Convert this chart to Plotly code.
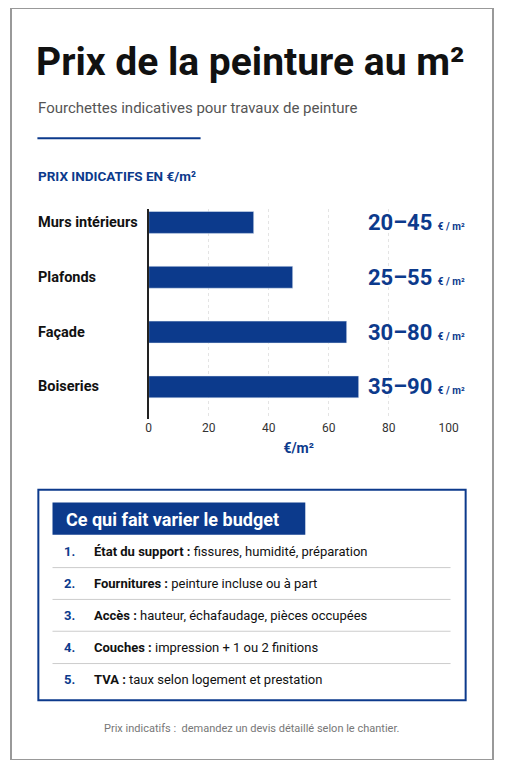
import plotly.graph_objects as go

categories = ["Murs intérieurs", "Plafonds", "Façade", "Boiseries"]
bar_values = [35, 48, 66, 70]
ranges = ["20–45", "25–55", "30–80", "35–90"]
tick_vals = [0, 20, 40, 60, 80, 100]
factor_titles = ["État du support :", "Fournitures :", "Accès :", "Couches :", "TVA :"]
factor_texts = ["fissures, humidité, préparation", "peinture incluse ou à part",
                "hauteur, échafaudage, pièces occupées", "impression + 1 ou 2 finitions",
                "taux selon logement et prestation"]

W, H = 511, 768
FW, FH = 495, 752
NAVY = "#0c3a8c"
COND = "Roboto, sans-serif"
def px(x): return x / W
def py(y): return 1 - y / H

fig = go.Figure(go.Bar(x=bar_values, y=list(range(len(categories))), orientation="h",
                       marker_color=NAVY, width=0.4, hoverinfo="skip"))

ann, shapes = [], []
def text(x, y, s, size, color="#111", anchor="left", family=COND):
    ann.append(dict(x=px(x), y=py(y), xref="paper", yref="paper", text=s, showarrow=False,
                    xanchor=anchor, yanchor="middle", font=dict(size=size, color=color, family=family)))

text(24, 55, "<b>Prix de la peinture au m²</b>", 39)
text(26, 102, "Fourchettes indicatives pour travaux de peinture", 15, "#555")
shapes.append(dict(type="line", xref="paper", yref="paper", x0=px(28), x1=px(201), y0=py(133), y1=py(133),
                   line=dict(color=NAVY, width=2)))
text(26, 172, "<b>PRIX INDICATIFS EN €/m²</b>", 13.5, NAVY)

for i, c in enumerate(categories):
    ann.append(dict(x=px(26), y=i, xref="paper", yref="y", text="<b>" + c + "</b>",
                    showarrow=False, xanchor="left", yanchor="middle", font=dict(size=14.5, color="#111", family=COND)))
    ann.append(dict(x=px(376), y=i, xref="paper", yref="y",
                    text="<b>" + ranges[i] + "</b> <span style='font-size:10px'><b>€ / m²</b></span>",
                    showarrow=False, xanchor="left", yanchor="middle", font=dict(size=22, color=NAVY, family=COND)))

shapes.append(dict(type="rect", xref="paper", yref="paper", x0=px(29), x1=px(482), y0=py(707), y1=py(492),
                   line=dict(color=NAVY, width=2)))
shapes.append(dict(type="rect", xref="paper", yref="paper", x0=px(44), x1=px(312), y0=py(538), y1=py(505),
                   line=dict(width=0), fillcolor=NAVY))
text(56, 522, "<b>Ce qui fait varier le budget</b>", 18, "white")
rows = [555, 588, 620, 653, 686]
for i, (t, d) in enumerate(zip(factor_titles, factor_texts)):
    text(54, rows[i], "<b>%d.</b>" % (i + 1), 13, NAVY)
    text(86, rows[i], "<b>" + t + "</b> " + d, 13, "#111")
    if i < 4:
        yy = (rows[i] + rows[i + 1]) / 2
        shapes.append(dict(type="line", xref="paper", yref="paper", x0=px(44), x1=px(466), y0=py(yy), y1=py(yy),
                           line=dict(color="#cccccc", width=1)))
text(255, 736, "Prix indicatifs :  demandez un devis détaillé selon le chantier.", 11, "#777", anchor="center")

fig.update_layout(
    width=FW, height=FH, margin=dict(l=0, r=0, t=0, b=0), paper_bgcolor="white", plot_bgcolor="white",
    showlegend=False, annotations=ann, shapes=shapes,
    xaxis=dict(domain=[px(146), px(464)], range=[0, 100], tickvals=tick_vals, showgrid=True,
               gridcolor="#e4e4e4", griddash="dot", zeroline=False, showline=False,
               tickfont=dict(size=12, color="#333", family=COND),
               title=dict(text="<b>€/m²</b>", font=dict(size=14, color=NAVY, family=COND), standoff=8)),
    yaxis=dict(domain=[py(420), py(205)], range=[3.59, -0.25], showticklabels=False, showgrid=False,
               zeroline=False, showline=True, linecolor="#222", linewidth=1.5),
)
fig.add_shape(type="rect", xref="paper", yref="paper", x0=0, x1=1, y0=0, y1=1, line=dict(color="#999", width=2))
fig.write_html("out.html")
